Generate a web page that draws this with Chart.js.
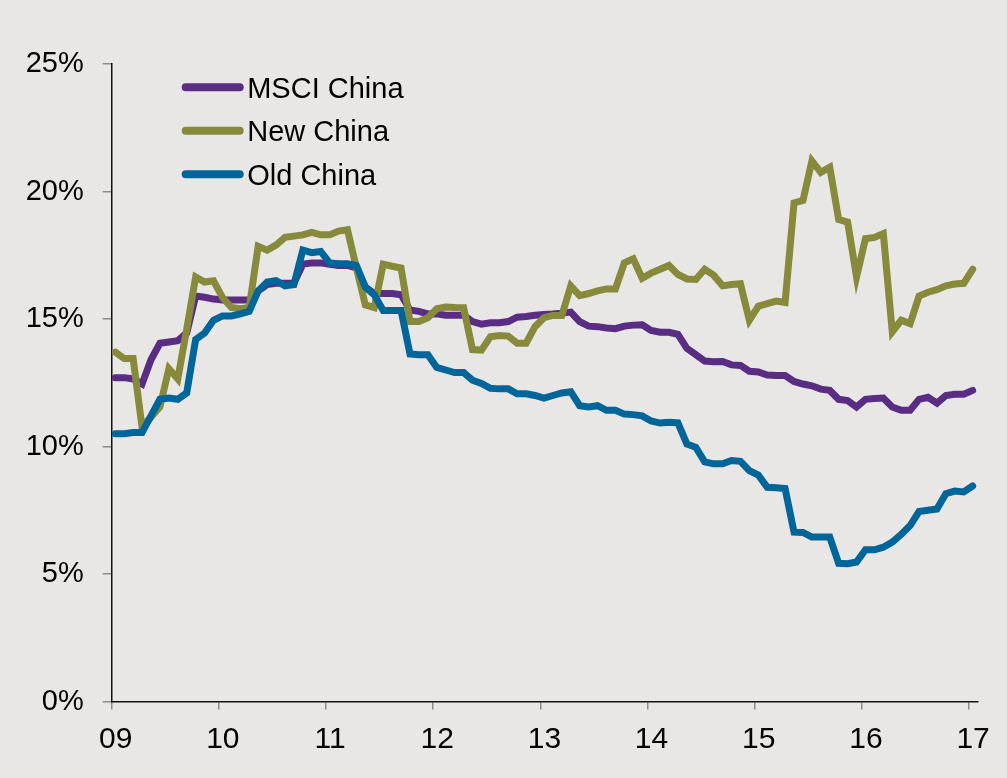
<!DOCTYPE html>
<html>
<head>
<meta charset="utf-8">
<title>MSCI China, New China, Old China</title>
<script src="https://cdn.jsdelivr.net/npm/chart.js@4.4.1/dist/chart.umd.min.js"></script>
<style>
  html, body { margin: 0; padding: 0; background: #e8e7e5; }
  #wrap { width: 1007px; height: 778px; position: relative; }
  canvas { display: block; }
</style>
</head>
<body>
<div id="wrap"><canvas id="chart" width="1007" height="778"></canvas></div>
<script>
// Year tick labels, one every 12 months starting Jan 2009
const yearLabels = ['09', '10', '11', '12', '13', '14', '15', '16', '17'];
// Percent ticks on the value axis
const yTicks = [0, 5, 10, 15, 20, 25];
const seriesNames = ['MSCI China', 'New China', 'Old China'];

// Monthly values, % (Jan 2009 .. Jan 2017)
const msciChina = [
  12.7, 12.7, 12.65, 12.45, 13.4, 14.05, 14.1, 14.15, 14.45, 15.9, 15.85, 15.78,
  15.75, 15.75, 15.75, 15.75, 16.1, 16.35, 16.4, 16.4, 16.4, 17.15, 17.2, 17.2,
  17.15, 17.1, 17.1, 17.0, 16.25, 16.0, 16.0, 16.0, 15.95, 15.35, 15.3, 15.2,
  15.2, 15.15, 15.15, 15.15, 14.9, 14.8, 14.85, 14.85, 14.9, 15.07, 15.1, 15.15,
  15.18, 15.2, 15.23, 15.27, 14.9, 14.72, 14.7, 14.65, 14.62, 14.72, 14.76, 14.77,
  14.55, 14.48, 14.48, 14.4, 13.85, 13.6, 13.35, 13.32, 13.33, 13.2, 13.18, 12.95,
  12.92, 12.8, 12.78, 12.78, 12.55, 12.45, 12.38, 12.25, 12.2, 11.85, 11.8, 11.55,
  11.85, 11.88, 11.9, 11.55, 11.42, 11.42, 11.85, 11.93, 11.7, 12.0, 12.05, 12.05,
  12.2
];
const newChina = [
  13.7, 13.45, 13.45, 10.75, 11.15, 11.55, 13.05, 12.65, 14.6, 16.65, 16.45, 16.5,
  15.85, 15.45, 15.4, 15.45, 17.85, 17.7, 17.9, 18.2, 18.25, 18.3, 18.4, 18.3,
  18.3, 18.45, 18.5, 17.0, 15.55, 15.45, 17.15, 17.07, 17.0, 14.9, 14.9, 15.05,
  15.4, 15.47, 15.45, 15.44, 13.8, 13.78, 14.3, 14.35, 14.33, 14.05, 14.05, 14.7,
  15.05, 15.14, 15.14, 16.3, 15.92, 16.0, 16.1, 16.18, 16.18, 17.2, 17.36, 16.6,
  16.8, 16.95, 17.1, 16.75, 16.57, 16.55, 16.95, 16.72, 16.3, 16.35, 16.38, 14.95,
  15.5, 15.6, 15.7, 15.65, 19.55, 19.65, 21.2, 20.75, 20.95, 18.9, 18.8, 16.65,
  18.15, 18.2, 18.35, 14.5, 14.95, 14.82, 15.9, 16.05, 16.15, 16.3, 16.37, 16.4,
  16.95
];
const oldChina = [
  10.5, 10.5, 10.55, 10.55, 11.2, 11.85, 11.9, 11.85, 12.1, 14.2, 14.45, 14.95,
  15.12, 15.12, 15.2, 15.3, 16.1, 16.45, 16.5, 16.3, 16.35, 17.7, 17.6, 17.65,
  17.2, 17.17, 17.17, 17.1, 16.25, 15.95, 15.33, 15.33, 15.33, 13.63, 13.6, 13.6,
  13.1, 13.0, 12.9, 12.9, 12.6, 12.47, 12.28, 12.26, 12.26, 12.07, 12.07, 12.0,
  11.9, 12.0, 12.1, 12.15, 11.6, 11.55, 11.6, 11.42, 11.42, 11.27, 11.25, 11.2,
  11.0, 10.92, 10.95, 10.93, 10.1, 9.97, 9.4, 9.32, 9.32, 9.45, 9.42, 9.05,
  8.88, 8.4, 8.38, 8.35, 6.64, 6.63, 6.45, 6.45, 6.45, 5.42, 5.4, 5.47,
  5.95, 5.95, 6.05, 6.25, 6.55, 6.9, 7.45, 7.5, 7.55, 8.15, 8.25, 8.22,
  8.45
];

const FONT = '"Liberation Sans", Arial, Helvetica, sans-serif';
Chart.defaults.font.family = FONT;
Chart.defaults.color = '#000';

// Each monthly observation sits a little into its month on the time axis
const MONTH_POS = 0.4;
const toPoints = (arr) => arr.map((v, i) => ({ x: i + MONTH_POS, y: v }));

// Legend drawn inside the plot, top-left, as thick rounded line samples
const insetLegend = {
  id: 'insetLegend',
  afterDraw(chart) {
    const { ctx, chartArea } = chart;
    const x0 = chartArea.left + 74;
    const len = 54;
    const y0 = chartArea.top + 23.3;
    const rowH = 43.5;
    ctx.save();
    ctx.font = '29px ' + FONT;
    ctx.fillStyle = '#000';
    ctx.textBaseline = 'alphabetic';
    ctx.textAlign = 'left';
    chart.data.datasets.forEach((ds, k) => {
      const y = y0 + k * rowH;
      ctx.beginPath();
      ctx.moveTo(x0, y);
      ctx.lineTo(x0 + len, y);
      ctx.strokeStyle = ds.borderColor;
      ctx.lineWidth = 8;
      ctx.lineCap = 'round';
      ctx.stroke();
      ctx.fillText(ds.label, x0 + len + 7.5, y + 10.4);
    });
    ctx.restore();
  }
};

const axisGrid = (len) => ({
  drawOnChartArea: false,
  drawTicks: true,
  tickLength: len,
  color: '#8c8c8c',
  lineWidth: 1.5
});
const axisBorder = { display: true, color: '#111', width: 1.5 };

new Chart(document.getElementById('chart'), {
  type: 'line',
  data: {
    datasets: [
      { label: seriesNames[0], data: toPoints(msciChina), borderColor: '#5a2d84', order: 3 },
      { label: seriesNames[1], data: toPoints(newChina), borderColor: '#868a3a', order: 2 },
      { label: seriesNames[2], data: toPoints(oldChina), borderColor: '#00669a', order: 1 }
    ]
  },
  options: {
    responsive: false,
    animation: false,
    devicePixelRatio: 1,
    layout: { padding: { left: 0, top: 64, right: 29, bottom: 0 } },
    plugins: { legend: { display: false }, tooltip: { enabled: false } },
    elements: {
      point: { radius: 0, hoverRadius: 0 },
      line: { tension: 0, borderWidth: 7, borderCapStyle: 'round', borderJoinStyle: 'miter', fill: false }
    },
    scales: {
      x: {
        type: 'linear',
        min: 0,
        max: 97,
        afterFit(s) { s.height = 76.5; },
        afterBuildTicks(s) { s.ticks = yearLabels.map((_, k) => ({ value: k * 12 })); },
        ticks: {
          callback: (v) => yearLabels[Math.round(v / 12)],
          font: { size: 30 },
          color: '#000',
          padding: 12,
          labelOffset: 4,
          maxRotation: 0,
          autoSkip: false
        },
        grid: axisGrid(8),
        border: axisBorder
      },
      y: {
        min: 0,
        max: 25,
        afterFit(s) { s.width = 111.7; },
        afterBuildTicks(s) { s.ticks = yTicks.map((v) => ({ value: v })); },
        ticks: {
          callback: (v) => v + '%',
          font: { size: 29 },
          color: '#000',
          padding: 19
        },
        grid: axisGrid(9),
        border: axisBorder
      }
    }
  },
  plugins: [insetLegend]
});
</script>
</body>
</html>
